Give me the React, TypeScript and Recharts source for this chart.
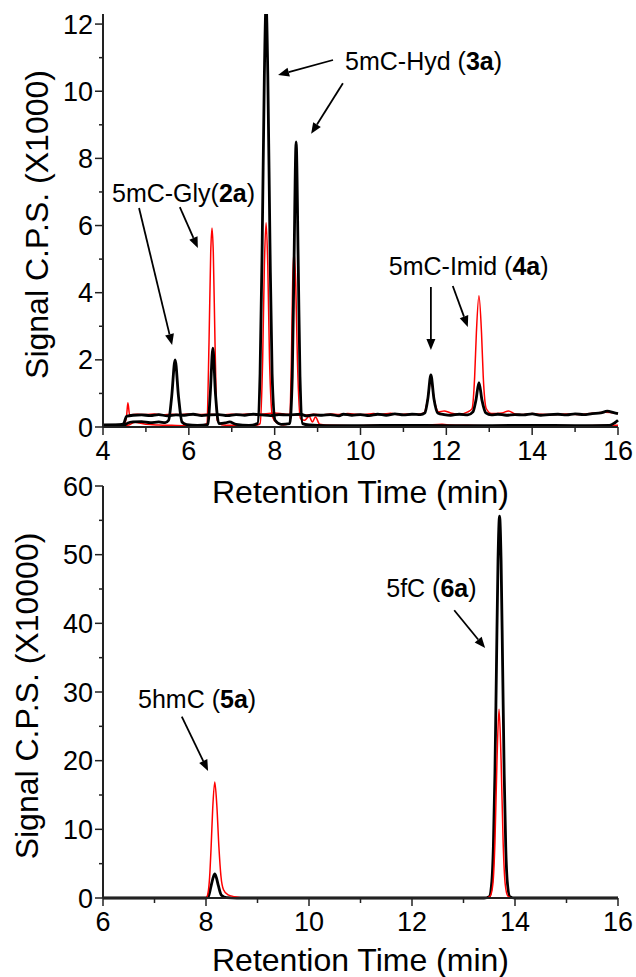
import React from 'react';
import { LineChart, Line, XAxis, YAxis, ReferenceLine, ReferenceDot } from 'recharts';

type Pt = [number, number];

// top panel: retention time (min) vs signal (x1000)
const topXTicks = [4, 5, 6, 7, 8, 9, 10, 11, 12, 13, 14, 15, 16];
const topYTicks = [0, 1, 2, 3, 4, 5, 6, 7, 8, 9, 10, 11, 12];

const blackUpper: Pt[] = [
  [4.0, 0.06], [4.2, 0.06], [4.4, 0.07], [4.48, 0.1], [4.55, 0.32], [4.7, 0.35], [4.9, 0.36],
  [5.1, 0.34], [5.3, 0.37], [5.5, 0.33], [5.7, 0.36], [5.9, 0.35], [6.1, 0.38], [6.3, 0.34],
  [6.5, 0.36], [6.7, 0.37], [6.9, 0.34], [7.1, 0.37], [7.3, 0.35], [7.5, 0.38], [7.7, 0.36],
  [7.9, 0.34], [8.1, 0.37], [8.3, 0.36], [8.6, 0.38], [8.75, 0.33], [8.9, 0.36], [9.1, 0.35],
  [9.3, 0.37], [9.5, 0.33], [9.6, 0.38], [9.8, 0.35], [10.0, 0.37], [10.2, 0.34], [10.4, 0.38],
  [10.6, 0.35], [10.8, 0.39], [11.0, 0.36], [11.2, 0.38], [11.4, 0.37], [11.5, 0.42],
  [11.57, 0.85], [11.64, 1.55], [11.71, 0.85], [11.8, 0.42], [11.95, 0.37], [12.1, 0.35],
  [12.3, 0.38], [12.5, 0.36], [12.62, 0.45], [12.69, 0.8], [12.76, 1.32], [12.83, 0.8],
  [12.92, 0.42], [13.05, 0.36], [13.2, 0.38], [13.4, 0.35], [13.6, 0.37], [13.8, 0.36],
  [14.0, 0.39], [14.2, 0.35], [14.4, 0.37], [14.6, 0.38], [14.8, 0.36], [15.0, 0.39],
  [15.2, 0.37], [15.4, 0.4], [15.6, 0.42], [15.75, 0.47], [15.9, 0.43], [16.0, 0.4],
];

const redUpper: Pt[] = [
  [4.0, 0.05], [4.3, 0.05], [4.5, 0.1], [4.55, 0.34], [4.58, 0.72], [4.62, 0.36], [4.8, 0.38],
  [5.0, 0.37], [5.2, 0.39], [5.4, 0.36], [5.6, 0.38], [5.8, 0.37], [6.0, 0.39], [6.2, 0.37],
  [6.4, 0.38], [6.8, 0.36], [7.0, 0.38], [7.2, 0.37], [7.4, 0.39], [7.6, 0.37], [8.0, 0.42],
  [8.2, 0.39], [8.7, 0.35], [8.9, 0.38], [9.1, 0.36], [9.3, 0.39], [9.5, 0.37], [9.7, 0.4],
  [9.9, 0.38], [10.1, 0.37], [10.3, 0.4], [10.5, 0.38], [10.7, 0.41], [10.9, 0.37],
  [11.1, 0.39], [11.3, 0.38], [11.48, 0.42], [11.56, 0.8], [11.64, 1.4], [11.72, 0.8],
  [11.82, 0.45], [11.95, 0.48], [12.1, 0.42], [12.3, 0.38], [12.5, 0.45], [12.6, 0.55],
  [12.66, 1.5], [12.7, 2.8], [12.76, 3.91], [12.82, 2.8], [12.86, 1.5], [12.93, 0.55],
  [13.05, 0.4], [13.3, 0.42], [13.45, 0.48], [13.6, 0.39], [13.8, 0.37], [14.0, 0.4],
  [14.2, 0.38], [14.5, 0.37], [14.8, 0.39], [15.1, 0.37], [15.4, 0.41], [15.7, 0.44], [16.0, 0.4],
];

const redLower: Pt[] = [
  [4.0, 0.04], [4.5, 0.04], [4.6, 0.06], [4.75, 0.14], [4.85, 0.12], [5.0, 0.08], [5.3, 0.06],
  [5.6, 0.05], [6.0, 0.04], [6.3, 0.05], [6.42, 0.1], [6.47, 2.5], [6.51, 5.2], [6.54, 5.93],
  [6.57, 5.2], [6.61, 2.5], [6.66, 0.2], [6.8, 0.06], [7.0, 0.05], [7.3, 0.04], [7.6, 0.06],
  [7.66, 0.1], [7.72, 2.0], [7.76, 4.8], [7.8, 6.08], [7.84, 4.8], [7.88, 2.0], [7.95, 0.3],
  [8.05, 0.12], [8.2, 0.06], [8.34, 0.1], [8.39, 2.0], [8.42, 4.3], [8.45, 5.21], [8.49, 4.3],
  [8.53, 2.0], [8.6, 0.25], [8.7, 0.2], [8.8, 0.32], [8.88, 0.15], [8.95, 0.3], [9.05, 0.08],
  [9.3, 0.05], [9.8, 0.04], [10.5, 0.05], [11.0, 0.04], [11.5, 0.05], [11.9, 0.08], [12.1, 0.06],
  [12.5, 0.05], [13.0, 0.04], [14.0, 0.05], [15.0, 0.04], [16.0, 0.05],
];

const blackLower: Pt[] = [
  [4.0, 0.05], [4.5, 0.06], [4.58, 0.12], [4.7, 0.15], [4.9, 0.16], [5.1, 0.13], [5.3, 0.15],
  [5.45, 0.13], [5.53, 0.2], [5.6, 0.9], [5.68, 2.0], [5.76, 0.9], [5.84, 0.15], [5.95, 0.07],
  [6.2, 0.05], [6.44, 0.07], [6.5, 1.0], [6.56, 2.35], [6.62, 1.0], [6.7, 0.1], [6.85, 0.12],
  [6.95, 0.15], [7.1, 0.08], [7.4, 0.05], [7.6, 0.1], [7.66, 1.6], [7.71, 5.5], [7.76, 10.5],
  [7.8, 12.6], [7.84, 10.5], [7.89, 5.5], [7.94, 1.6], [8.01, 0.2], [8.15, 0.08], [8.35, 0.1],
  [8.41, 1.5], [8.45, 4.8], [8.5, 8.49], [8.55, 4.8], [8.59, 1.5], [8.65, 0.1], [8.8, 0.06],
  [9.2, 0.04], [10, 0.04], [11, 0.05], [12, 0.04], [13, 0.04], [14, 0.05], [15, 0.04],
  [15.8, 0.05], [15.92, 0.12], [16.0, 0.2],
];

// bottom panel: signal (x10000)
const botXTicks = [6, 7, 8, 9, 10, 11, 12, 13, 14, 15, 16];
const botYTicks = [0, 5, 10, 15, 20, 25, 30, 35, 40, 45, 50, 55, 60];

const blackBottom: Pt[] = [
  [6, 0], [8.0, 0], [8.05, 0.3], [8.1, 1.8], [8.14, 3.0], [8.17, 3.5], [8.2, 3.0], [8.24, 1.8],
  [8.3, 0.4], [8.4, 0.05], [8.6, 0], [13.4, 0], [13.5, 0.2], [13.55, 2.4], [13.58, 7.5],
  [13.61, 18.1], [13.64, 33.7], [13.67, 49.1], [13.7, 55.6], [13.73, 49.1], [13.76, 33.7],
  [13.79, 18.1], [13.82, 7.5], [13.85, 2.4], [13.9, 0.2], [14.0, 0], [16, 0],
];

const redBottom: Pt[] = [
  [6, 0], [8.0, 0], [8.03, 0.4], [8.07, 3], [8.1, 7.5], [8.13, 13], [8.17, 16.9], [8.21, 13.5],
  [8.25, 7.5], [8.29, 3.2], [8.34, 1.2], [8.42, 0.5], [8.55, 0.2], [8.8, 0], [13.45, 0],
  [13.52, 0.3], [13.57, 2], [13.61, 8], [13.65, 20], [13.69, 27.5], [13.73, 20], [13.77, 8],
  [13.81, 2], [13.86, 0.3], [13.95, 0], [16, 0],
];

const FONT = '"Liberation Sans", Arial, sans-serif';

const rows = (pts: Pt[]) => pts.map(([t, v]) => ({ t, v }));

const makeXTick = (step: number) => (props: any) => {
  const { x, y, payload } = props;
  const major = payload.value % step === 0;
  return (
    <g>
      <line x1={x} y1={y} x2={x} y2={y + (major ? 8 : 5)} stroke="#222" strokeWidth={1.5} />
      {major && (
        <text x={x} y={y + 33} textAnchor="middle" fontSize={27} fontFamily={FONT} fill="#000">
          {payload.value}
        </text>
      )}
    </g>
  );
};

const makeYTick = (step: number) => (props: any) => {
  const { x, y, payload } = props;
  const major = payload.value % step === 0;
  return (
    <g>
      <line x1={x - (major ? 8 : 4)} y1={y} x2={x} y2={y} stroke="#222" strokeWidth={1.5} />
      {major && (
        <text x={x - 10} y={y + 9.5} textAnchor="end" fontSize={27} fontFamily={FONT} fill="#000">
          {payload.value}
        </text>
      )}
    </g>
  );
};

const xTitle = (text: string, dy: number) => (p: any) => {
  const vb = p.viewBox;
  return (
    <text x={vb.x + vb.width / 2} y={vb.y + dy} textAnchor="middle" fontSize={32} fontFamily={FONT} fill="#000">
      {text}
    </text>
  );
};

const yTitle = (text: string, bx: number) => (p: any) => {
  const vb = p.viewBox;
  const cx = vb.x + bx;
  const cy = vb.y + vb.height / 2 + 4;
  return (
    <text x={cx} y={cy} transform={`rotate(-90 ${cx} ${cy})`} textAnchor="middle" fontSize={32} fontFamily={FONT} fill="#000">
      {text}
    </text>
  );
};

const Arrow = (p: any) => {
  const { x1, y1, x2, y2 } = p;
  const a = Math.atan2(y2 - y1, x2 - x1);
  const len = 11;
  const w = 4.5;
  const bx = x2 - len * Math.cos(a);
  const by = y2 - len * Math.sin(a);
  const px = -Math.sin(a) * w;
  const py = Math.cos(a) * w;
  return (
    <g>
      <line x1={x1} y1={y1} x2={bx} y2={by} stroke="#000" strokeWidth={1.8} />
      <polygon points={`${x2},${y2} ${bx + px},${by + py} ${bx - px},${by - py}`} fill="#000" />
    </g>
  );
};

const tag = (name: string, bold: string, gap: boolean) => (p: any) => (
  <text x={p.cx} y={p.cy} fontSize={25} fontFamily={FONT} fill="#000">
    {name}
    {gap ? ' (' : '('}
    <tspan fontWeight="bold">{bold}</tspan>)
  </text>
);

const arrows = (segs: [Pt, Pt][]) =>
  segs.map(([a, b], i) => (
    <ReferenceLine
      key={i}
      segment={[{ x: a[0], y: a[1] }, { x: b[0], y: b[1] }]}
      shape={Arrow}
      ifOverflow="visible"
    />
  ));

const topArrows: [Pt, Pt][] = [
  [[9.36, 10.93], [8.08, 10.48]],
  [[9.59, 10.24], [8.85, 8.73]],
  [[4.84, 6.52], [5.61, 2.44]],
  [[5.79, 6.55], [6.21, 5.33]],
  [[11.64, 4.17], [11.64, 2.29]],
  [[12.15, 4.2], [12.5, 2.98]],
];

const botArrows: [Pt, Pt][] = [
  [[7.53, 26.4], [8.04, 18.5]],
  [[12.82, 41.9], [13.42, 36.4]],
];

const axisStyle = { stroke: '#222', strokeWidth: 2 };

export default function App() {
  return (
    <div style={{ position: 'relative', width: 636, height: 977, background: '#fff' }}>
      <style>{'body{margin:0}'}</style>
      <div style={{ position: 'absolute', left: 0, top: 0 }}>
        <LineChart width={636} height={515} margin={{ top: 14, right: 18, bottom: 10, left: 0 }}>
          <XAxis
            dataKey="t"
            type="number"
            domain={[4, 16]}
            ticks={topXTicks}
            interval={0}
            height={78}
            tickSize={0}
            tickMargin={0}
            tickLine={false}
            axisLine={axisStyle}
            tick={makeXTick(2)}
            label={{ content: xTitle('Retention Time (min)', 76) }}
          />
          <YAxis
            type="number"
            domain={[0, 12.3]}
            allowDataOverflow
            ticks={topYTicks}
            interval={0}
            width={103}
            tickSize={0}
            tickMargin={0}
            tickLine={false}
            axisLine={axisStyle}
            tick={makeYTick(2)}
            label={{ content: yTitle('Signal C.P.S. (X1000)', 48) }}
          />
          <Line data={rows(redLower)} dataKey="v" type="monotone" stroke="#ff0000" strokeWidth={1.5} dot={false} isAnimationActive={false} />
          <Line data={rows(redUpper)} dataKey="v" type="monotone" stroke="#ff0000" strokeWidth={1.5} dot={false} isAnimationActive={false} />
          <Line data={rows(blackLower)} dataKey="v" type="monotone" stroke="#000" strokeWidth={2.8} dot={false} isAnimationActive={false} />
          <Line data={rows(blackUpper)} dataKey="v" type="monotone" stroke="#000" strokeWidth={2.8} dot={false} isAnimationActive={false} />
          <ReferenceDot x={4.21} y={6.7} shape={tag('5mC-Gly', '2a', false)} ifOverflow="visible" />
          <ReferenceDot x={9.64} y={10.63} shape={tag('5mC-Hyd', '3a', true)} ifOverflow="visible" />
          <ReferenceDot x={10.66} y={4.53} shape={tag('5mC-Imid', '4a', true)} ifOverflow="visible" />
          {arrows(topArrows)}
        </LineChart>
      </div>
      <div style={{ position: 'absolute', left: 0, top: 470 }}>
        <LineChart width={636} height={507} margin={{ top: 16, right: 18, bottom: 0, left: 0 }}>
          <XAxis
            dataKey="t"
            type="number"
            domain={[6, 16]}
            ticks={botXTicks}
            interval={0}
            height={79}
            tickSize={0}
            tickMargin={0}
            tickLine={false}
            axisLine={axisStyle}
            tick={makeXTick(2)}
            label={{ content: xTitle('Retention Time (min)', 73) }}
          />
          <YAxis
            type="number"
            domain={[0, 60]}
            ticks={botYTicks}
            interval={0}
            width={103}
            tickSize={0}
            tickMargin={0}
            tickLine={false}
            axisLine={axisStyle}
            tick={makeYTick(10)}
            label={{ content: yTitle('Signal C.P.S. (X10000)', 38) }}
          />
          <Line data={rows(blackBottom)} dataKey="v" type="monotone" stroke="#000" strokeWidth={2.8} dot={false} isAnimationActive={false} />
          <Line data={rows(redBottom)} dataKey="v" type="monotone" stroke="#ff0000" strokeWidth={1.5} dot={false} isAnimationActive={false} />
          <ReferenceDot x={6.68} y={27.7} shape={tag('5hmC', '5a', true)} ifOverflow="visible" />
          <ReferenceDot x={11.5} y={43.8} shape={tag('5fC', '6a', true)} ifOverflow="visible" />
          {arrows(botArrows)}
        </LineChart>
      </div>
    </div>
  );
}
